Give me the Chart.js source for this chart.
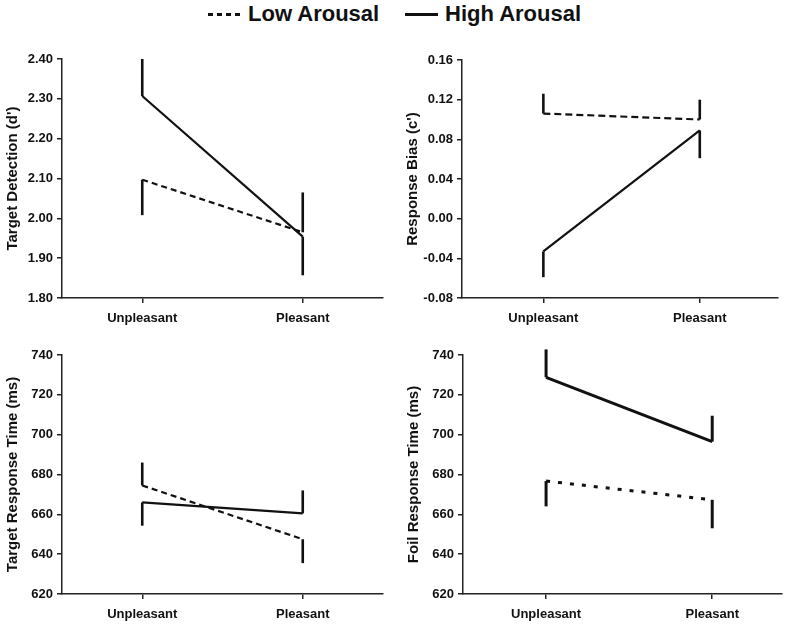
<!DOCTYPE html>
<html>
<head>
<meta charset="utf-8">
<script src="https://cdn.jsdelivr.net/npm/chart.js@4"></script>
<style>
  body { margin: 0; background: #fff; }
  #wrap { position: relative; width: 800px; height: 627px; font-family: "Liberation Sans", Arial, sans-serif; }
  .box { position: absolute; }
  .legend { position: absolute; top: 3px; font-weight: bold; font-size: 22px; line-height: 22px; color: #111; white-space: nowrap; }
  .swatch { position: absolute; top: 13px; height: 3px; width: 33px; }
</style>
</head>
<body>
<div id="wrap">
  <div class="swatch" style="left:208px;background:repeating-linear-gradient(to right,#111 0 5px,transparent 5px 9px)"></div>
  <div class="legend" style="left:248px">Low Arousal</div>
  <div class="swatch" style="left:405px;background:#111"></div>
  <div class="legend" style="left:445px">High Arousal</div>
  <div class="box" style="left:0;top:40px"><canvas id="c1" width="400" height="290"></canvas></div>
  <div class="box" style="left:400px;top:40px"><canvas id="c2" width="400" height="290"></canvas></div>
  <div class="box" style="left:0;top:330px"><canvas id="c3" width="400" height="297"></canvas></div>
  <div class="box" style="left:400px;top:330px"><canvas id="c4" width="400" height="297"></canvas></div>
</div>
<script>
const categories = ['Unpleasant', 'Pleasant'];

// errors are one-sided: positive = bar goes up, negative = bar goes down
const detectionLow = [2.097, 1.965];
const detectionLowErr = [-0.089, 0.100];
const detectionHigh = [2.307, 1.954];
const detectionHighErr = [0.093, -0.097];
const detectionTicks = [1.80, 1.90, 2.00, 2.10, 2.20, 2.30, 2.40];

const biasLow = [0.106, 0.100];
const biasLowErr = [0.020, 0.020];
const biasHigh = [-0.033, 0.089];
const biasHighErr = [-0.026, -0.028];
const biasTicks = [-0.08, -0.04, 0.00, 0.04, 0.08, 0.12, 0.16];

const targetRtLow = [674.5, 647.5];
const targetRtLowErr = [11.5, -12];
const targetRtHigh = [666, 660.5];
const targetRtHighErr = [-11.7, 11.5];

const foilRtLow = [676.7, 667.3];
const foilRtLowErr = [-12.7, -14.3];
const foilRtHigh = [728.8, 696.5];
const foilRtHighErr = [14, 13];

const rtTicks = [620, 640, 660, 680, 700, 720, 740];

const ink = '#111';
Chart.defaults.font.family = '"Liberation Sans", Arial, sans-serif';
Chart.defaults.font.weight = 'bold';
Chart.defaults.color = ink;

const errorBars = {
  id: 'errorBars',
  afterDatasetsDraw(chart) {
    const ctx = chart.ctx;
    const xs = chart.scales.x, ys = chart.scales.y;
    chart.data.datasets.forEach(ds => {
      ctx.save();
      ctx.strokeStyle = ink;
      ctx.lineWidth = ds.errWidth;
      ds.data.forEach((p, i) => {
        const x = xs.getPixelForValue(p.x);
        ctx.beginPath();
        ctx.moveTo(x, ys.getPixelForValue(p.y));
        ctx.lineTo(x, ys.getPixelForValue(p.y + ds.errors[i]));
        ctx.stroke();
      });
      ctx.restore();
    });
  }
};

const toPoints = vals => vals.map((v, i) => ({ x: i, y: v }));

function makePanel(id, o) {
  const axisLine = { display: true, color: '#222', width: 1.5 };
  const tickGrid = { drawOnChartArea: false, drawTicks: true, tickLength: 5, color: '#222', lineWidth: 1.5 };
  new Chart(document.getElementById(id), {
    type: 'line',
    data: {
      datasets: [
        { label: 'Low Arousal', data: toPoints(o.low), errors: o.lowErr, errWidth: o.errWidth,
          borderColor: ink, borderWidth: o.lineWidth, borderDash: o.dash, pointRadius: 0, tension: 0 },
        { label: 'High Arousal', data: toPoints(o.high), errors: o.highErr, errWidth: o.errWidth,
          borderColor: ink, borderWidth: o.lineWidth, pointRadius: 0, tension: 0 }
      ]
    },
    options: {
      responsive: false,
      animation: false,
      layout: { padding: o.padding },
      plugins: { legend: { display: false }, tooltip: { enabled: false } },
      scales: {
        x: {
          type: 'linear', min: o.xMin, max: o.xMax,
          afterBuildTicks: axis => { axis.ticks = categories.map((c, i) => ({ value: i })); },
          afterFit: axis => { axis.height = o.xHeight; },
          ticks: { padding: 8, font: { size: 13 }, callback: v => categories[v] },
          grid: tickGrid, border: axisLine
        },
        y: {
          min: o.ticks[0], max: o.ticks[o.ticks.length - 1],
          afterBuildTicks: axis => { axis.ticks = o.ticks.map(v => ({ value: v })); },
          afterFit: axis => { axis.width = 62; },
          ticks: { padding: 4, font: { size: 13 }, callback: v => v.toFixed(o.decimals) },
          title: { display: true, text: o.title, font: { size: 15 }, padding: { top: 4, bottom: 0 } },
          grid: tickGrid, border: axisLine
        }
      }
    },
    plugins: [errorBars]
  });
}

makePanel('c1', {
  title: "Target Detection (d')", ticks: detectionTicks, decimals: 2,
  low: detectionLow, lowErr: detectionLowErr, high: detectionHigh, highErr: detectionHighErr,
  xMin: -0.5, xMax: 1.5, xHeight: 32, padding: { top: 19, right: 17, left: 0, bottom: 0 },
  dash: [6, 4], lineWidth: 2.2, errWidth: 2.6
});
makePanel('c2', {
  title: "Response Bias (c')", ticks: biasTicks, decimals: 2,
  low: biasLow, lowErr: biasLowErr, high: biasHigh, highErr: biasHighErr,
  xMin: -0.52, xMax: 1.5, xHeight: 32, padding: { top: 20, right: 22, left: 0, bottom: 0 },
  dash: [7, 4], lineWidth: 2.2, errWidth: 2.6
});
makePanel('c3', {
  title: 'Target Response Time (ms)', ticks: rtTicks, decimals: 0,
  low: targetRtLow, lowErr: targetRtLowErr, high: targetRtHigh, highErr: targetRtHighErr,
  xMin: -0.5, xMax: 1.5, xHeight: 33, padding: { top: 25, right: 17, left: 0, bottom: 0 },
  dash: [6, 4], lineWidth: 2.2, errWidth: 2.6
});
makePanel('c4', {
  title: 'Foil Response Time (ms)', ticks: rtTicks, decimals: 0,
  low: foilRtLow, lowErr: foilRtLowErr, high: foilRtHigh, highErr: foilRtHighErr,
  xMin: -0.5, xMax: 1.42, xHeight: 33, padding: { top: 25, right: 18, left: 1, bottom: 0 },
  dash: [4, 8], lineWidth: 3, errWidth: 3
});
</script>
</body>
</html>
